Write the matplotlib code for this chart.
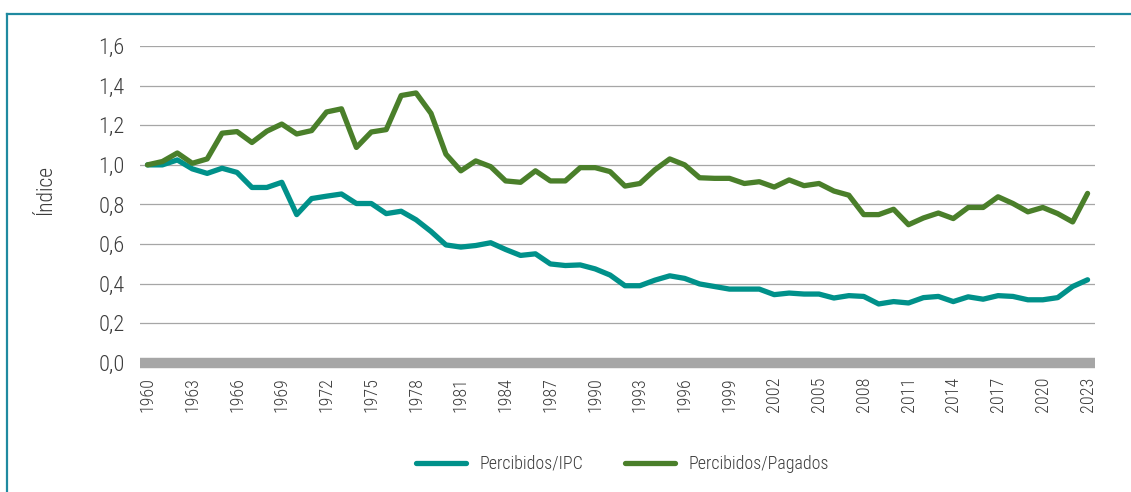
import matplotlib
matplotlib.use('Agg')
import matplotlib.pyplot as plt
from matplotlib import font_manager as fm
from matplotlib.lines import Line2D

# the original uses a condensed face; take the narrowest one installed
fonts = fm.fontManager.ttflist
names = {f.name for f in fonts}
stretch = 'normal'
weight = 'light'
if 'Roboto Condensed' in names:
    font, k = 'Roboto Condensed', 1.15
elif 'Liberation Sans Narrow' in names:
    font, k = 'Liberation Sans Narrow', 1.1
elif any(f.name == 'DejaVu Sans' and f.stretch in ('condensed', 'semi-condensed') for f in fonts):
    font, k, stretch = 'DejaVu Sans', 0.95, 'condensed'
else:
    font, k = 'Roboto', 0.9
plt.rcParams['font.family'] = [font, 'DejaVu Sans']
plt.rcParams['font.stretch'] = stretch
plt.rcParams['font.weight'] = weight
plt.rcParams['axes.labelweight'] = weight

# data, index 1960 = 1
years = list(range(1960, 2024))
percibidos_ipc = [
    1.0, 1.0, 1.025, 0.98, 0.957, 0.983, 0.962, 0.886, 0.886, 0.912,
    0.749, 0.83, 0.842, 0.853, 0.805, 0.805, 0.754, 0.766, 0.723, 0.664,
    0.596, 0.585, 0.593, 0.607, 0.573, 0.543, 0.551, 0.5, 0.492, 0.495,
    0.475, 0.444, 0.39, 0.39, 0.418, 0.44, 0.427, 0.399, 0.386, 0.373,
    0.373, 0.373, 0.345, 0.353, 0.348, 0.348, 0.328, 0.34, 0.336, 0.298,
    0.31, 0.303, 0.33, 0.336, 0.31, 0.334, 0.322, 0.34, 0.336, 0.319,
    0.319, 0.33, 0.386, 0.42,
]
percibidos_pagados = [
    1.0, 1.017, 1.06, 1.008, 1.03, 1.16, 1.168, 1.113, 1.17, 1.206,
    1.156, 1.173, 1.267, 1.283, 1.088, 1.166, 1.178, 1.35, 1.363, 1.26,
    1.054, 0.97, 1.02, 0.991, 0.919, 0.912, 0.97, 0.919, 0.919, 0.986,
    0.986, 0.966, 0.893, 0.906, 0.975, 1.03, 1.0, 0.935, 0.932, 0.932,
    0.906, 0.915, 0.888, 0.924, 0.895, 0.906, 0.868, 0.847, 0.749, 0.749,
    0.776, 0.698, 0.732, 0.757, 0.729, 0.785, 0.785, 0.839, 0.805, 0.763,
    0.785, 0.754, 0.712, 0.856,
]
x_ticks = years[::3]
y_ticks = [0.0, 0.2, 0.4, 0.6, 0.8, 1.0, 1.2, 1.4, 1.6]

teal = '#00918a'
green = '#4a7f2a'
txt = '#3c3c3c'
grey = '#a6a6a6'

fig = plt.figure(figsize=(11.31, 4.92), dpi=100)
ax = fig.add_axes([0.1238, 0.2622, 0.8444, 0.6443])

ax.plot(years, percibidos_ipc, color=teal, lw=3.8, label='Percibidos/IPC',
        solid_joinstyle='round', solid_capstyle='round', zorder=3)
ax.plot(years, percibidos_pagados, color=green, lw=3.8, label='Percibidos/Pagados',
        solid_joinstyle='round', solid_capstyle='round', zorder=3)

# thick grey base line at zero
ax.axhline(0, color=grey, lw=7.5, solid_capstyle='butt', clip_on=False, zorder=2)

ax.set_xlim(1959.5, 2023.5)
ax.set_ylim(0, 1.6)
ax.set_yticks(y_ticks)
ax.set_yticklabels([f'{v:.1f}'.replace('.', ',') for v in y_ticks])
ax.set_xticks(x_ticks)
ax.set_xticklabels([str(y) for y in x_ticks], rotation=90)
ax.tick_params(axis='y', length=0, pad=11, labelsize=14 * k, labelcolor=txt)
ax.tick_params(axis='x', length=0, pad=10, labelsize=11.3 * k, labelcolor=txt)
ax.grid(axis='y', color=grey, lw=0.9)
ax.set_axisbelow(True)
for s in ax.spines.values():
    s.set_visible(False)

ax.set_ylabel('Índice', fontsize=13.5 * k, color=txt)
ax.yaxis.set_label_coords(-0.088, 0.545)

fig.legend(loc='center', bbox_to_anchor=(0.5504, 0.057), ncol=2, frameon=False,
           fontsize=11.2 * k, labelcolor=txt, handlelength=2.8,
           handletextpad=0.75, columnspacing=2.3)

# frame lines, top and left only
fig.add_artist(Line2D([7 / 1131, 1], [1 - 13.5 / 492] * 2, transform=fig.transFigure,
                      color='#1f8aa0', lw=1.6))
fig.add_artist(Line2D([7 / 1131] * 2, [0, 1 - 13.5 / 492], transform=fig.transFigure,
                      color='#1f8aa0', lw=1.6))

fig.savefig('out.png', dpi=100)
